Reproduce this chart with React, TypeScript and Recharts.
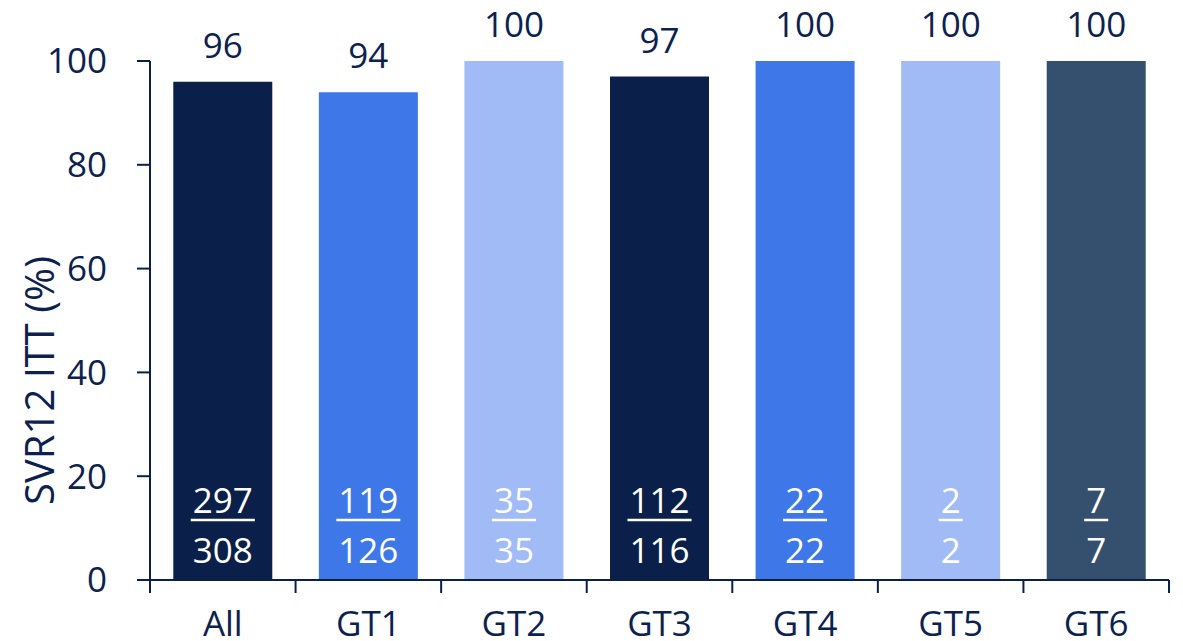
import React from 'react'
import { BarChart, Bar, XAxis, YAxis, Cell, LabelList } from 'recharts'

const categories = ['All', 'GT1', 'GT2', 'GT3', 'GT4', 'GT5', 'GT6']
const svr = [96, 94, 100, 97, 100, 100, 100]
const responders = [297, 119, 35, 112, 22, 2, 7]
const totals = [308, 126, 35, 116, 22, 2, 7]
const yTicks = [0, 20, 40, 60, 80, 100]

const NAVY = '#0a1f4a'
const TEXT = '#0c2150'
const barColors = ['#0a1f4a', '#3d77e8', '#a0bbf5', '#0a1f4a', '#3d77e8', '#a0bbf5', '#34506e']

const W = 1183
const H = 641
const MARGIN = { top: 61, right: 14, bottom: 0, left: 0 }
const Y_W = 150
const FONT = '"Open Sans", sans-serif'
const FS = 35

const data = categories.map((name, i) => ({
  name,
  svr: svr[i],
  resp: responders[i],
  total: totals[i],
}))

const step = (W - MARGIN.left - MARGIN.right - Y_W) / categories.length

function XTick(props: any) {
  const { x, y, payload, index } = props
  const left = x - step / 2
  return (
    <g>
      <line x1={left} y1={y} x2={left} y2={y + 13} stroke={NAVY} strokeWidth={2} />
      {index === categories.length - 1 && (
        <line x1={x + step / 2} y1={y} x2={x + step / 2} y2={y + 13} stroke={NAVY} strokeWidth={2} />
      )}
      <text x={x} y={y + 56} textAnchor="middle" fill={TEXT} fontSize={FS} fontFamily={FONT}>
        {payload.value}
      </text>
    </g>
  )
}

function TopLabel(props: any) {
  const { x, y, width, value } = props
  return (
    <text x={x + width / 2} y={y - 24} textAnchor="middle" fill={TEXT} fontSize={FS} fontFamily={FONT}>
      {value}
    </text>
  )
}

function InnerLabel(props: any) {
  const { x, y, width, height, index } = props
  const cx = x + width / 2
  const bottom = y + height
  const num = String(responders[index])
  const den = String(totals[index])
  const half = (num.length * FS * 0.572) / 2 + 2
  return (
    <g>
      <text x={cx} y={bottom - 67} textAnchor="middle" fill="#ffffff" fontSize={FS} fontFamily={FONT}>
        {num}
      </text>
      <line x1={cx - half} y1={bottom - 60} x2={cx + half} y2={bottom - 60} stroke="#ffffff" strokeWidth={2.5} />
      <text x={cx} y={bottom - 17} textAnchor="middle" fill="#ffffff" fontSize={FS} fontFamily={FONT}>
        {den}
      </text>
    </g>
  )
}

function YLabel(props: any) {
  const { viewBox } = props
  const cx = 38
  const cy = viewBox.y + viewBox.height / 2 + 60
  return (
    <text
      x={cx}
      y={cy}
      transform={`rotate(-90 ${cx} ${cy})`}
      textAnchor="middle"
      dominantBaseline="central"
      fill={TEXT}
      fontSize={40}
      fontFamily={FONT}
    >
      SVR12 ITT (%)
    </text>
  )
}

export default function App() {
  return (
    <div style={{ position: 'absolute', left: 0, top: 0, background: '#fff' }}>
      <BarChart width={W} height={H} data={data} margin={MARGIN} barCategoryGap="16%">
        <XAxis
          dataKey="name"
          height={61}
          axisLine={{ stroke: NAVY, strokeWidth: 2 }}
          tickLine={false}
          tickSize={0}
          tickMargin={0}
          tick={<XTick />}
          interval={0}
        />
        <YAxis
          width={Y_W}
          domain={[0, 100]}
          ticks={yTicks}
          tickSize={13}
          tickMargin={30}
          axisLine={{ stroke: NAVY, strokeWidth: 2 }}
          tickLine={{ stroke: NAVY, strokeWidth: 2 }}
          tick={{ fill: TEXT, fontSize: FS, fontFamily: FONT }}
          label={<YLabel />}
        />
        <Bar dataKey="svr" isAnimationActive={false}>
          {data.map((d, i) => (
            <Cell key={d.name} fill={barColors[i]} />
          ))}
          <LabelList dataKey="svr" content={<TopLabel />} />
          <LabelList dataKey="resp" content={<InnerLabel />} />
        </Bar>
      </BarChart>
    </div>
  )
}
